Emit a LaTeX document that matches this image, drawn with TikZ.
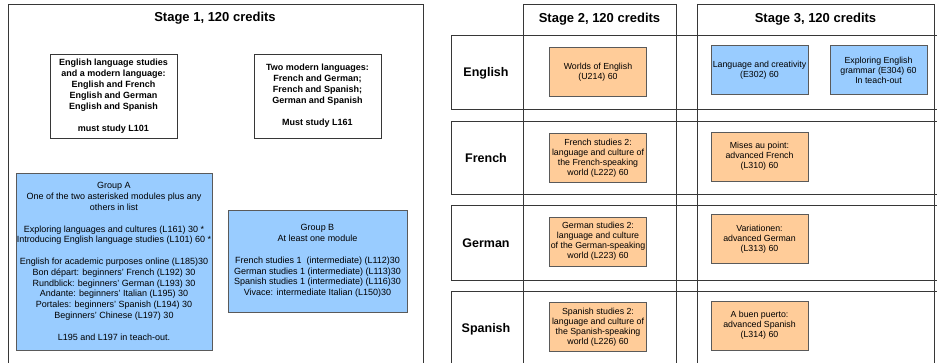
\documentclass[tikz,border=0pt]{standalone}
\usepackage{fontspec}
\setmainfont{Liberation Sans}
\usetikzlibrary{positioning}
\definecolor{modblue}{RGB}{153,204,255}
\definecolor{modorange}{RGB}{255,204,153}
\definecolor{framegray}{RGB}{55,55,55}
\definecolor{boxgray}{RGB}{90,90,90}

\begin{document}
\begin{tikzpicture}[x=1pt,y=-1pt,
    frame/.style={draw=framegray,line width=0.9pt},
    stagehead/.style={font=\fontsize{13}{15}\selectfont\bfseries},
    rowhead/.style={font=\fontsize{12.5}{15}\selectfont\bfseries},
    choicebox/.style={draw=framegray,line width=0.8pt,align=center,inner sep=0pt,
        font=\fontsize{9}{11}\selectfont\bfseries,minimum width=127pt,minimum height=84pt},
    groupbox/.style={draw=boxgray,fill=modblue,line width=0.8pt,align=center,inner sep=0pt,
        font=\fontsize{9}{10.8}\selectfont},
    modbox/.style={draw=boxgray,line width=0.8pt,align=center,inner sep=0pt,
        font=\fontsize{8.8}{10}\selectfont,minimum width=97pt,minimum height=49pt},
    stagetwo/.style={modbox,fill=modorange},
    stagethree/.style={modbox,fill=modblue}]
    \useasboundingbox (0,0) rectangle (937,363);
    \draw[frame] (8,370) -- (8,4) -- (423,4) -- (423,370);
    \node[stagehead] (stage1) at (215,18) {Stage 1, 120 credits};
    \node[choicebox] (engmodern) at (113.5,96) {English language studies\\and a modern language:\\English and French\\English and German\\English and Spanish\\[11pt]must study L101};
    \node[choicebox] (twomodern) at (317.5,96) {Two modern languages:\\French and German;\\French and Spanish;\\German and Spanish\\[11pt]Must study L161};
    \node[groupbox,minimum width=196pt,minimum height=177pt] (groupA) at (114,261.5) {Group A\\One of the two asterisked modules plus any\\others in list\\[10.8pt]Exploring languages and cultures (L161) 30 *\\Introducing English language studies (L101) 60 *\\[10.8pt]English for academic purposes online (L185)30\\Bon départ: beginners' French (L192) 30\\Rundblick: beginners' German (L193) 30\\Andante: beginners' Italian (L195) 30\\Portales: beginners' Spanish (L194) 30\\Beginners' Chinese (L197) 30\\[10.8pt]L195 and L197 in teach-out.};
    \node[groupbox,minimum width=179pt,minimum height=102pt] (groupB) at (317.5,261) {Group B\\At least one module\\[10.8pt]French studies 1\ \ (intermediate) (L112)30\\German studies 1 (intermediate) (L113)30\\Spanish studies 1 (intermediate) (L116)30\\Vivace: intermediate Italian (L150)30};
    \foreach \xa in {523,676,697,934}
        \draw[frame] (\xa,4) -- (\xa,370);
    \draw[frame] (523,4) -- (676,4);
    \draw[frame] (697,4) -- (934,4);
    \foreach \ya/\yb in {35/109,121/194,205/280}
        \draw[frame] (940,\ya) -- (451,\ya) -- (451,\yb) -- (940,\yb);
    \draw[frame] (940,291) -- (451,291) -- (451,370);
    \node[stagehead] (stage2) at (599.5,19) {Stage 2, 120 credits};
    \node[stagehead] (stage3) at (815.5,19) {Stage 3, 120 credits};
    \node[rowhead] (english) at (486,73) {English};
    \node[rowhead] (french) at (486,158) {French};
    \node[rowhead] (german) at (486,243) {German};
    \node[rowhead] (spanish) at (486,329) {Spanish};
    \node[stagetwo] (u214) at (598,72) {Worlds of English\\(U214) 60};
    \node[stagethree] (e302) at (759.5,70) {Language and creativity\\(E302) 60};
    \node[stagethree] (e304) at (878.5,70) {Exploring English\\grammar (E304) 60\\In teach-out};
    \node[stagetwo] (l222) at (598,158) {French studies 2:\\language and culture of\\the French-speaking\\world (L222) 60};
    \node[stagetwo] (l310) at (759.5,156.5) {Mises au point:\\advanced French\\(L310) 60};
    \node[stagetwo] (l223) at (598,241.5) {German studies 2:\\language and culture\\of the German-speaking\\world (L223) 60};
    \node[stagetwo] (l313) at (759.5,239) {Variationen:\\advanced German\\(L313) 60};
    \node[stagetwo] (l226) at (598,327) {Spanish studies 2:\\language and culture of\\the Spanish-speaking\\world (L226) 60};
    \node[stagetwo] (l314) at (759.5,325.5) {A buen puerto:\\advanced Spanish\\(L314) 60};
\end{tikzpicture}
\end{document}
